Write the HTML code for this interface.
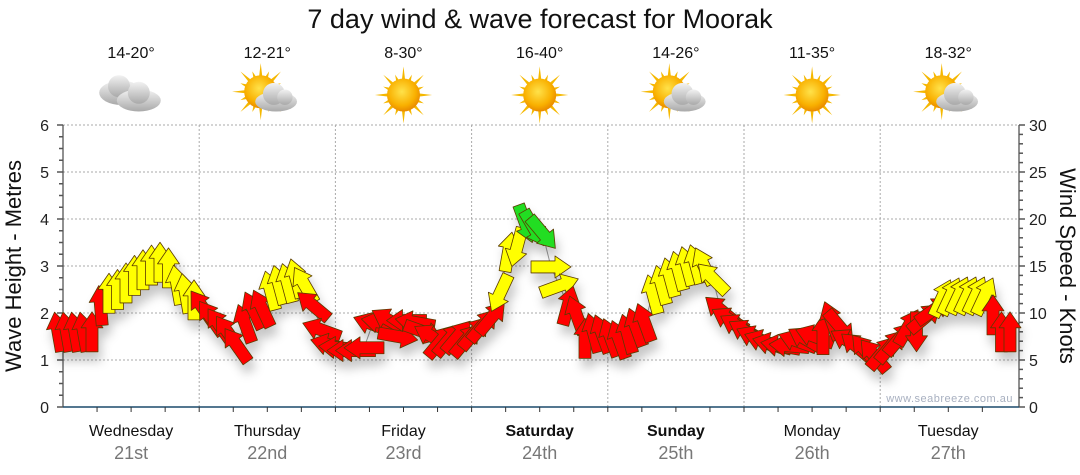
<!DOCTYPE html>
<html><head><meta charset="utf-8"><style>
body{margin:0;background:#fff;}
svg{display:block;font-family:"Liberation Sans",Arial,sans-serif;}
</style></head><body>
<svg id="c" width="1080" height="475" xmlns="http://www.w3.org/2000/svg">
<defs>
<filter id="sh" x="-50%" y="-50%" width="200%" height="200%"><feDropShadow dx="3" dy="9" stdDeviation="5" flood-color="#000" flood-opacity="0.22"/></filter>
<radialGradient id="sun" cx="45%" cy="40%" r="60%"><stop offset="0" stop-color="#ffe24a"/><stop offset="0.7" stop-color="#f9b000"/><stop offset="1" stop-color="#e98a00"/></radialGradient>
<linearGradient id="cl" x1="0" y1="0" x2="0" y2="1"><stop offset="0" stop-color="#f2f2f2"/><stop offset="1" stop-color="#a9a9a9"/></linearGradient>
</defs>
<text x="540" y="28" text-anchor="middle" font-size="27" fill="#111">7 day wind &amp; wave forecast for Moorak</text>
<g id="grid"></g><g id="axes"></g><g id="icons"></g>
<text x="0" y="0" transform="translate(21,266) rotate(-90)" text-anchor="middle" font-size="22" fill="#111">Wave Height - Metres</text>
<text x="0" y="0" transform="translate(1060,266) rotate(90)" text-anchor="middle" font-size="22" fill="#111">Wind Speed - Knots</text>
<text x="1013" y="402" text-anchor="end" font-size="11" fill="#a8b0c0" letter-spacing="0.5">www.seabreeze.com.au</text>
<g id="marks"></g>
</svg>
<script>
const days=["Wednesday","Thursday","Friday","Saturday","Sunday","Monday","Tuesday"];
const dates=["21st","22nd","23rd","24th","25th","26th","27th"];
const boldDays=[false,false,false,true,true,false,false];
const temps=["14-20°","12-21°","8-30°","16-40°","14-26°","11-35°","18-32°"];
const weather=["cloud","suncloud","sun","sun","suncloud","sun","suncloud"];
const waveTicks=[0,1,2,3,4,5,6];
const windTicks=[0,5,10,15,20,25,30];
const windSpeed=[8,8,8,8,8,10.8,12.1,12.5,13.2,14,14.6,15.1,15.4,14.8,13,12.1,
11.4,10.6,9.5,8.7,7.9,6.6,8.9,10.3,10.5,12.4,13,13.2,13.7,13,10.8,8.2,
6.6,6.3,6,6,6.3,8.8,9,9.2,7.5,9.2,9,8,7.5,7,7.2,7.5,
7.1,7.9,8.7,9.5,12.1,16.5,17,19.5,19,18.5,14.9,12.9,10.8,9.8,7.3,7.9,
7.8,7.4,7.2,7.8,8.5,9,12,13,13.8,14.5,15,15.2,15,13.7,10.3,9.3,
8.6,8,7.4,7,6.7,6.5,6.5,7,7.2,7.5,7.7,9.2,8.5,7,6.4,6,
5.5,5.8,6.5,7.3,8.5,8,9.5,10.3,11.6,11.8,11.9,11.9,11.9,11.8,9.8,8,8];
const windDir=[-10,-10,-10,-10,0,-5,0,0,0,0,0,0,0,0,-10,-10,
0,-35,-35,-35,-35,-35,-20,-25,-25,-15,-15,-15,-15,-30,-50,-70,
-75,-85,-90,-90,-90,-70,-80,-60,100,-90,-80,110,-60,40,40,40,
40,40,40,40,205,10,195,160,150,140,90,70,15,-20,0,-15,
-20,-20,-20,-15,-20,-20,-15,-15,-15,-15,-15,-15,-25,-45,-50,-60,
-60,-60,-65,-70,-75,-80,-85,-70,-60,-70,0,-20,140,-60,-50,-40,
-40,40,40,40,30,180,50,55,25,25,25,25,25,25,0,0,0];
const X0=63,DW=136.2,Y0=407,PH=282;
const yW=v=>Y0-v/6*PH, yK=v=>Y0-v/30*PH;
const xi=i=>58+i*8.5;
const NS="http://www.w3.org/2000/svg";
function mk(tag,attrs,parent){const e=document.createElementNS(NS,tag);for(const k in attrs)e.setAttribute(k,attrs[k]);parent.appendChild(e);return e;}
const grid=document.getElementById('grid'),axes=document.getElementById('axes'),icons=document.getElementById('icons'),marks=document.getElementById('marks');
waveTicks.forEach(v=>{if(v>0){const l=mk('line',{x1:X0,x2:1019,y1:yW(v),y2:yW(v),stroke:'#aaa','stroke-dasharray':'2,2'},grid);

}});
for(let d=1;d<7;d++){const l=mk('line',{x1:X0+d*DW,x2:X0+d*DW,y1:125,y2:Y0,stroke:'#aaa','stroke-dasharray':'2,2'},grid);

}
mk('line',{x1:X0,x2:X0,y1:125,y2:Y0,stroke:'#222'},axes);
mk('line',{x1:1019,x2:1019,y1:125,y2:Y0,stroke:'#222'},axes);
for(let m=0;m<=24;m++){const y=yW(m/4);mk('line',{x1:X0-(m%4?4:6),x2:X0,y1:y,y2:y,stroke:'#555','stroke-width':1.5},axes);}
for(let k=0;k<=30;k++){const y=yK(k);mk('line',{x1:1019,x2:1019+(k%5?4:6),y1:y,y2:y,stroke:'#555','stroke-width':1.5},axes);}
waveTicks.forEach(v=>{const t=mk('text',{x:49,y:yW(v)+6,'text-anchor':'end','font-size':16,fill:'#222'},axes);t.textContent=v;

});
windTicks.forEach(v=>{const t=mk('text',{x:1029,y:yK(v)+6,'font-size':16,fill:'#222'},axes);t.textContent=v;

});
mk('line',{x1:X0,x2:1019,y1:Y0,y2:Y0,stroke:'#1b4a6b','stroke-width':1.5},axes);
for(let q=1;q<28;q++){const x=X0+q*DW/4;mk('line',{x1:x,x2:x,y1:Y0,y2:Y0+5,stroke:'#333'},axes);}
days.forEach((d,i)=>{const cx=X0+(i+0.5)*DW;
const t=mk('text',{x:cx,y:436,'text-anchor':'middle','font-size':16,fill:'#111','font-weight':boldDays[i]?'bold':'normal'},axes);t.textContent=d;


const t2=mk('text',{x:cx,y:459,'text-anchor':'middle','font-size':18,fill:'#777'},axes);t2.textContent=dates[i];


const t3=mk('text',{x:cx,y:58,'text-anchor':'middle','font-size':16,fill:'#111'},icons);t3.textContent=temps[i];


const g=mk('g',{transform:`translate(${cx},95) scale(1.1)`},icons);


const w=weather[i];
if(w!=='cloud'){const sx=w==='sun'?0:-6,sy=w==='sun'?0:-3;
for(let r=0;r<16;r++){const a=r*Math.PI/8,L=r%2?20:26;mk('polygon',{points:`${sx+Math.cos(a-0.12)*13},${sy+Math.sin(a-0.12)*13} ${sx+Math.cos(a)*L},${sy+Math.sin(a)*L} ${sx+Math.cos(a+0.12)*13},${sy+Math.sin(a+0.12)*13}`,fill:'#f5b800'},g);}
mk('circle',{cx:sx,cy:sy,r:15,fill:'url(#sun)'},g);}
if(w==='cloud'){
mk('ellipse',{cx:-9,cy:-2,rx:20,ry:11,fill:'url(#cl)'},g);mk('circle',{cx:-11,cy:-8,r:10,fill:'url(#cl)'},g);
mk('ellipse',{cx:7,cy:5,rx:20,ry:10,fill:'url(#cl)'},g);mk('circle',{cx:7,cy:-2,r:10,fill:'url(#cl)'},g);}
if(w==='suncloud'){mk('ellipse',{cx:8,cy:6,rx:19,ry:9,fill:'url(#cl)'},g);mk('circle',{cx:6,cy:-1,r:10,fill:'url(#cl)'},g);mk('circle',{cx:16,cy:2,r:7,fill:'url(#cl)'},g);}
});
let pts=windSpeed.map((v,i)=>`${xi(i)},${yK(v)}`).join(' ');
const pl=mk('polyline',{points:pts,fill:'none',stroke:'#999','stroke-width':1},marks);


const ag=mk('g',{filter:'url(#sh)'},marks);
windSpeed.forEach((v,i)=>{const col=v>=18?'#22dd22':(v>=11.3?'#ffff00':'#ff0000');
const p=mk('polygon',{points:'0,-20 11,-4 6,-4 6,20 -6,20 -6,-4 -11,-4',fill:col,stroke:'#5a3a00','stroke-width':0.8,'stroke-linejoin':'round',transform:`translate(${xi(i)},${yK(v)}) rotate(${windDir[i]})`},ag);

});
</script>
</body></html>
